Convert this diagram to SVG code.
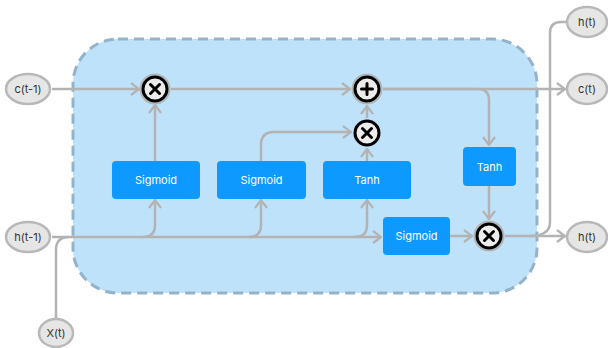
<svg xmlns="http://www.w3.org/2000/svg" width="608" height="348" viewBox="0 0 608 348">
<defs>
<style>
.term ellipse{fill:#e6e6e6;stroke:#b8b8b8;stroke-width:2.5}
.term text{font-family:Inter,"Liberation Sans",sans-serif;font-size:11px;fill:#333;text-anchor:middle;dominant-baseline:central}
.box rect{fill:#0d99ff}
.box text{font-family:Inter,"Liberation Sans",sans-serif;font-size:11px;fill:#fff;text-anchor:middle;dominant-baseline:central}
.op .ring{fill:#ececec;stroke:#000;stroke-width:3}
.op .halo{fill:none;stroke:#b5b5b5;stroke-width:2}
.op .sym{stroke:#000;stroke-width:3;stroke-linecap:round;fill:none}
.wire{fill:none;stroke:#b3b3b3;stroke-width:2.5}
</style>
<marker id="arr" viewBox="0 0 10 14" refX="9" refY="7" markerWidth="10" markerHeight="14" markerUnits="userSpaceOnUse" orient="auto">
<path d="M1,1 L9,7 L1,13" fill="none" stroke="#b3b3b3" stroke-width="2.2"/>
</marker>
</defs>

<rect id="cell" x="73" y="39" width="464" height="254" rx="45" fill="#bfe2fb" stroke="#93b3cb" stroke-width="3" stroke-dasharray="10 6"/>

<g id="connectors">
<path class="wire" d="M52 89 H139" marker-end="url(#arr)"/>
<path class="wire" d="M171 89 H350" marker-end="url(#arr)"/>
<path class="wire" d="M383 89 H565" marker-end="url(#arr)"/>
<path class="wire" d="M383 89 H478 Q489 89 489 100 V145" marker-end="url(#arr)"/>
<path class="wire" d="M489 186 V219" marker-end="url(#arr)"/>
<path class="wire" d="M155 161 V105" marker-end="url(#arr)"/>
<path class="wire" d="M261 161 V145 Q261 132 274 132 H351" marker-end="url(#arr)"/>
<path class="wire" d="M367 161 V149" marker-end="url(#arr)"/>
<path class="wire" d="M367 118 V106" marker-end="url(#arr)"/>
<path class="wire" d="M52 237 H381" marker-end="url(#arr)"/>
<path class="wire" d="M56 318 V250 Q56 237 69 237"/>
<path class="wire" d="M143 237 Q155 237 155 225 V200" marker-end="url(#arr)"/>
<path class="wire" d="M249 237 Q261 237 261 225 V200" marker-end="url(#arr)"/>
<path class="wire" d="M355 237 Q367 237 367 225 V200" marker-end="url(#arr)"/>
<path class="wire" d="M450 236 H472" marker-end="url(#arr)"/>
<path class="wire" d="M505 236 H565" marker-end="url(#arr)"/>
<path class="wire" d="M530 236 Q550 236 550 222 V33 Q550 22 561 22 H566"/>
</g>

<g id="c_prev" class="term"><ellipse cx="28" cy="89" rx="22" ry="15"/><text x="28" y="89">c(t-1)</text></g>
<g id="h_prev" class="term"><ellipse cx="28" cy="237" rx="22" ry="15"/><text x="28" y="237">h(t-1)</text></g>
<g id="x_t" class="term"><ellipse cx="56" cy="333" rx="17" ry="14"/><text x="56" y="333">X(t)</text></g>
<g id="h_out_top" class="term"><ellipse cx="587" cy="22" rx="20" ry="15"/><text x="587" y="22">h(t)</text></g>
<g id="c_out" class="term"><ellipse cx="587" cy="89" rx="20" ry="15"/><text x="587" y="89">c(t)</text></g>
<g id="h_out" class="term"><ellipse cx="587" cy="237" rx="20" ry="15"/><text x="587" y="237">h(t)</text></g>

<g id="sigmoid_forget" class="box"><rect x="112" y="161" width="88" height="38" rx="4"/><text x="156" y="180">Sigmoid</text></g>
<g id="sigmoid_input" class="box"><rect x="217" y="161" width="89" height="38" rx="4"/><text x="261.5" y="180">Sigmoid</text></g>
<g id="tanh_cand" class="box"><rect x="323" y="161" width="88" height="38" rx="4"/><text x="367" y="180">Tanh</text></g>
<g id="sigmoid_output" class="box"><rect x="383" y="217" width="67" height="38" rx="4"/><text x="416.5" y="236">Sigmoid</text></g>
<g id="tanh_out" class="box"><rect x="463" y="147" width="53" height="39" rx="4"/><text x="489.5" y="166.5">Tanh</text></g>

<g id="mul_forget" class="op"><circle class="halo" cx="155" cy="89" r="14.5"/><circle class="ring" cx="155" cy="89" r="12"/><path class="sym" d="M150.5 84.5 L159.5 93.5 M159.5 84.5 L150.5 93.5"/></g>
<g id="add_cell" class="op"><circle class="halo" cx="367" cy="89" r="14.5"/><circle class="ring" cx="367" cy="89" r="12"/><path class="sym" d="M367 83.5 V94.5 M361.5 89 H372.5"/></g>
<g id="mul_input" class="op"><circle class="ring" cx="367" cy="133" r="12"/><path class="sym" d="M362.5 128.5 L371.5 137.5 M371.5 128.5 L362.5 137.5"/></g>
<g id="mul_output" class="op"><circle class="halo" cx="489" cy="236" r="14.5"/><circle class="ring" cx="489" cy="236" r="12"/><path class="sym" d="M484.5 231.5 L493.5 240.5 M493.5 231.5 L484.5 240.5"/></g>
</svg>
